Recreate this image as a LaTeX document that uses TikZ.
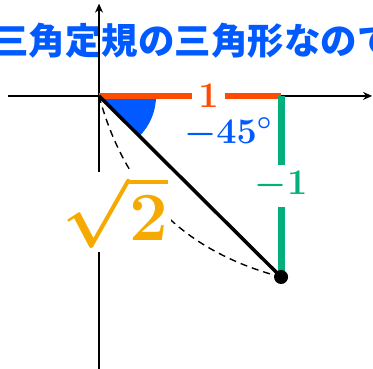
\RequirePackage{fix-cm}
\documentclass[tikz,border=0pt]{standalone}
\usepackage{amsmath, amssymb, bm}
\usepackage{fontspec}
\newfontfamily\jpfont{Noto Sans CJK JP}
\usepackage{tikz}
\usetikzlibrary{arrows.meta}
\definecolor{cudred}{HTML}{FF4B00}
\definecolor{cudgreen}{HTML}{03AF7A}
\definecolor{cudblue}{HTML}{005AFF}
\definecolor{cudorange}{HTML}{F6AA00}

\begin{document}
\begin{tikzpicture}[x=182pt, y=181pt,
    axis/.style={line width=1.3pt, -{Stealth[length=9pt,width=8pt]}},
    lbl/.style={fill=white, font=\fontsize{36}{36}\selectfont\boldmath}]
    \useasboundingbox (-0.544,-1.508) rectangle (1.505,0.530);
    % title
    \node[text=cudblue, font=\jpfont\bfseries\fontsize{36.5}{36.5}\selectfont] (title) at (0.516,0.304) {三角定規の三角形なので};
    % axes
    \draw[axis] (-0.50,0) -- (1.50,0);
    \draw[axis] (0,-1.51) -- (0,0.51);
    \coordinate (O) at (0,0);
    \coordinate (A) at (1,0);
    \coordinate (P) at (1,-1);
    % angle
    \fill[cudblue] (O) -- ++(57pt,0) arc[start angle=0, end angle=-45, radius=57pt] -- cycle;
    % sides
    \draw[cudred, line width=6pt] (O) -- (A);
    \draw[cudgreen, line width=7pt] (A) -- (P);
    \draw[line width=3.5pt] (O) -- (P);
    \draw[line width=1.4pt, dash pattern=on 7pt off 5pt] (O) to[bend right=30] (P);
    \fill (P) circle[radius=7pt];
    % labels
    \node[lbl, text=cudred, inner xsep=6pt] (one) at (0.602,0) {$1$};
    \node[lbl, text=cudgreen, text height=24pt, text depth=6pt, inner ysep=6pt] (mone) at (1,-0.497) {$-1$};
    \node[font=\fontsize{36}{36}\selectfont\boldmath, text=cudblue, anchor=base] (ang) at (0.709,-0.260) {$-45^\circ$};
    \node[lbl, text=cudorange, font=\fontsize{69}{69}\selectfont\boldmath, inner sep=3pt] (root) at (0.090,-0.641) {$\sqrt{2}$};
\end{tikzpicture}
\end{document}
